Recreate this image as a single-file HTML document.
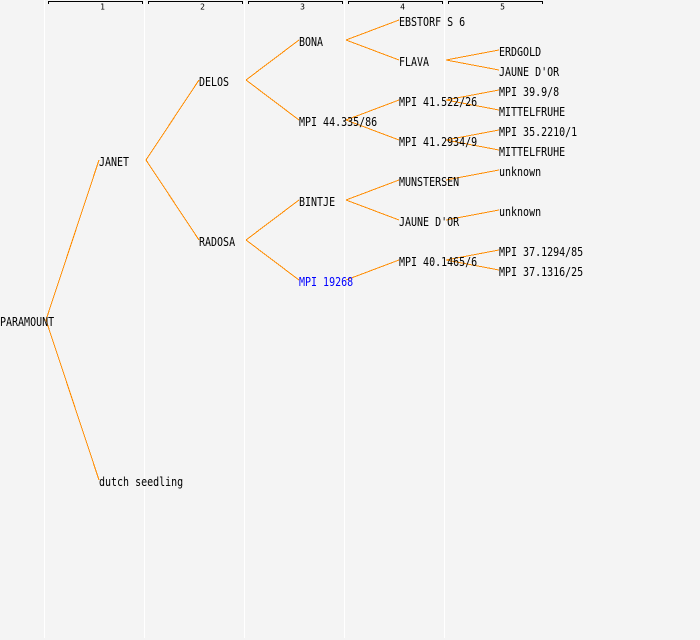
<!DOCTYPE html>
<html>
<head>
<meta charset="utf-8">
<style>
html,body{margin:0;padding:0;background:#f4f4f4;}
svg{display:block;}
text{font-family:"DejaVu Sans Mono","Liberation Mono",monospace;font-size:10px;fill:#000;}
.h{font-size:8px;text-anchor:middle;}
</style>
</head>
<body>
<svg width="700" height="640" viewBox="0 0 700 640" xmlns="http://www.w3.org/2000/svg">
<rect width="700" height="640" fill="#f4f4f4"/>
<g fill="#ffffff" shape-rendering="crispEdges">
<rect x="44" y="0" width="1" height="638"/>
<rect x="144" y="0" width="1" height="638"/>
<rect x="244" y="0" width="1" height="638"/>
<rect x="344" y="0" width="1" height="638"/>
<rect x="444" y="0" width="1" height="638"/>
</g>
<g fill="none" stroke="#000" stroke-width="1" shape-rendering="crispEdges">
<path d="M48.5 4V1.5H142.5V4"/>
<path d="M148.5 4V1.5H242.5V4"/>
<path d="M248.5 4V1.5H342.5V4"/>
<path d="M348.5 4V1.5H442.5V4"/>
<path d="M448.5 4V1.5H542.5V4"/>
</g>
<text class="h" x="102.5" y="9.5">1</text>
<text class="h" x="202.5" y="9.5">2</text>
<text class="h" x="302.5" y="9.5">3</text>
<text class="h" x="402.5" y="9.5">4</text>
<text class="h" x="502.5" y="9.5">5</text>
<g stroke="#ff8c00" stroke-width="1" fill="none" shape-rendering="crispEdges">
<path d="M46 320L99 160M46 320L99 480"/>
<path d="M146 160L199 80M146 160L199 240"/>
<path d="M246 80L299 40M246 80L299 120"/>
<path d="M246 240L299 200M246 240L299 280"/>
<path d="M346 40L399 20M346 40L399 60"/>
<path d="M346 120L399 100M346 120L399 140"/>
<path d="M346 200L399 180M346 200L399 220"/>
<path d="M346 280L399 260"/>
<path d="M446 60L499 50M446 60L499 70"/>
<path d="M446 100L499 90M446 100L499 110"/>
<path d="M446 140L499 130M446 140L499 150"/>
<path d="M446 180L499 170"/>
<path d="M446 220L499 210"/>
<path d="M446 260L499 250M446 260L499 270"/>
</g>
<g>
<text transform="translate(0 326) scale(1 1.2)">PARAMOUNT</text>
<text transform="translate(99 166) scale(1 1.2)">JANET</text>
<text transform="translate(99 486) scale(1 1.2)">dutch seedling</text>
<text transform="translate(199 86) scale(1 1.2)">DELOS</text>
<text transform="translate(199 246) scale(1 1.2)">RADOSA</text>
<text transform="translate(299 46) scale(1 1.2)">BONA</text>
<text transform="translate(299 126) scale(1 1.2)">MPI 44.335/86</text>
<text transform="translate(299 206) scale(1 1.2)">BINTJE</text>
<text transform="translate(299 286) scale(1 1.2)" style="fill:#0000ff">MPI 19268</text>
<text transform="translate(399 26) scale(1 1.2)">EBSTORF S 6</text>
<text transform="translate(399 66) scale(1 1.2)">FLAVA</text>
<text transform="translate(399 106) scale(1 1.2)">MPI 41.522/26</text>
<text transform="translate(399 146) scale(1 1.2)">MPI 41.2934/9</text>
<text transform="translate(399 186) scale(1 1.2)">MUNSTERSEN</text>
<text transform="translate(399 226) scale(1 1.2)">JAUNE D'OR</text>
<text transform="translate(399 266) scale(1 1.2)">MPI 40.1465/6</text>
<text transform="translate(499 56) scale(1 1.2)">ERDGOLD</text>
<text transform="translate(499 76) scale(1 1.2)">JAUNE D'OR</text>
<text transform="translate(499 96) scale(1 1.2)">MPI 39.9/8</text>
<text transform="translate(499 116) scale(1 1.2)">MITTELFRUHE</text>
<text transform="translate(499 136) scale(1 1.2)">MPI 35.2210/1</text>
<text transform="translate(499 156) scale(1 1.2)">MITTELFRUHE</text>
<text transform="translate(499 176) scale(1 1.2)">unknown</text>
<text transform="translate(499 216) scale(1 1.2)">unknown</text>
<text transform="translate(499 256) scale(1 1.2)">MPI 37.1294/85</text>
<text transform="translate(499 276) scale(1 1.2)">MPI 37.1316/25</text>
</g>
</svg>
</body>
</html>
